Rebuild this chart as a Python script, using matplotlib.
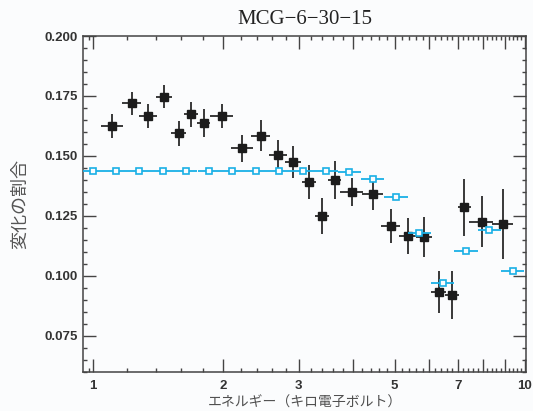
import matplotlib
matplotlib.use("Agg")
import matplotlib.pyplot as plt
from matplotlib.ticker import FixedLocator, FixedFormatter, NullFormatter
import numpy as np

# black points: measured fractional variability
energy = [1.11, 1.23, 1.345, 1.46, 1.58, 1.69, 1.81, 1.99, 2.22, 2.45, 2.69, 2.91,
          3.17, 3.39, 3.63, 3.98, 4.45, 4.90, 5.38, 5.85, 6.32, 6.79, 7.25, 7.95, 8.90]
energy_err = [0.0625, 0.0625, 0.0625, 0.0625, 0.0625, 0.0625, 0.0625,
              0.125, 0.125, 0.125, 0.125, 0.125, 0.125, 0.125, 0.125,
              0.25, 0.25, 0.25, 0.25, 0.25, 0.25, 0.25, 0.25, 0.5, 0.5]
frac = [0.1624, 0.1719, 0.1666, 0.1747, 0.1594, 0.1673, 0.1636, 0.1667, 0.1531,
        0.1584, 0.1503, 0.1473, 0.1392, 0.1250, 0.1399, 0.1348, 0.1341, 0.1207,
        0.1165, 0.1162, 0.0933, 0.0919, 0.1285, 0.1225, 0.1217]
frac_err = [0.0050, 0.0049, 0.0049, 0.0049, 0.0051, 0.0053, 0.0058, 0.0051, 0.0056,
            0.0065, 0.0063, 0.0067, 0.0072, 0.0076, 0.0078, 0.0059, 0.0066, 0.0070,
            0.0074, 0.0082, 0.0087, 0.0101, 0.0118, 0.0107, 0.0146]

# blue open squares: model
model_energy = [1.00, 1.13, 1.28, 1.452, 1.642, 1.862, 2.104, 2.384, 2.70, 3.06,
                3.467, 3.927, 4.447, 5.037, 5.70, 6.457, 7.31, 8.28, 9.38]
model_frac = [0.1437, 0.1437, 0.1437, 0.1437, 0.1437, 0.1437, 0.1437, 0.1437, 0.1437,
              0.1437, 0.1437, 0.1431, 0.1403, 0.1329, 0.1179, 0.0970, 0.1104, 0.1189, 0.1020]
model_halfwidth_dex = 0.027

title = "MCG\u22126\u221230\u221215"
xlabel = "エネルギー（キロ電子ボルト）"
ylabel = "変化の割合"
xtick_vals = [1, 2, 3, 4, 5, 6, 7, 8, 9, 10]
xtick_labels = ["1", "2", "3", "", "5", "", "7", "", "", "10"]
ytick_vals = [0.075, 0.100, 0.125, 0.150, 0.175, 0.200]

bg = "#fbfcfd"
blue = "#1ab0e6"
fig = plt.figure(figsize=(5.33, 4.11), dpi=100, facecolor=bg)
ax = fig.add_axes([0.1563, 0.0956, 0.8306, 0.8168], facecolor=bg)

ax.errorbar(energy, frac, xerr=energy_err, yerr=frac_err, fmt="s", color="#1c1c1c",
            ms=6.2, ecolor="#383838", elinewidth=1.4, capsize=0, zorder=2)

me = np.array(model_energy)
lo = me - me * 10 ** (-model_halfwidth_dex)
hi = me * 10 ** model_halfwidth_dex - me
ax.errorbar(model_energy, model_frac, xerr=[lo, hi], fmt="s", color=blue, mfc=bg,
            mec=blue, mew=1.2, ms=4.8, ecolor=blue, elinewidth=1.3, capsize=0, zorder=3)

ax.set_xscale("log")
ax.set_xlim(0.951, 10.07)
ax.set_ylim(0.06, 0.2)

ax.xaxis.set_major_locator(FixedLocator(xtick_vals))
ax.xaxis.set_major_formatter(FixedFormatter(xtick_labels))
minor = [0.98] + [v for v in np.arange(1.2, 10.0, 0.2) if abs(v - round(v)) > 0.05]
ax.xaxis.set_minor_locator(FixedLocator(minor))
ax.xaxis.set_minor_formatter(NullFormatter())
ax.yaxis.set_major_locator(FixedLocator(ytick_vals))
ax.yaxis.set_major_formatter(FixedFormatter([f"{v:.3f}" for v in ytick_vals]))
ax.yaxis.set_minor_locator(FixedLocator(np.arange(0.06, 0.2001, 0.005)))

ax.tick_params(which="both", direction="in", top=True, right=True, color="#444444", width=1.0)
ax.tick_params(which="major", length=9.5)
ax.tick_params(which="minor", length=3.2)
ax.tick_params(axis="y", which="major", pad=4)
ax.tick_params(axis="x", which="major", pad=6)
for lab in ax.get_xticklabels() + ax.get_yticklabels():
    lab.set_family("Liberation Sans")
    lab.set_fontweight("bold")
    lab.set_fontsize(9.5)
    lab.set_color("#333333")
for s in ax.spines.values():
    s.set_color("#444444")
    s.set_linewidth(1.1)

fig.text(304.5 / 533, 1 - 20 / 411, title, ha="center", va="center",
         family="Liberation Serif", fontsize=15, color="#222222")
fig.text(304.5 / 533, 1 - 403 / 411, xlabel, ha="center", va="center",
         family=["Noto Sans CJK JP", "DejaVu Sans"], fontsize=10, color="#505050")
fig.text(20 / 533, 1 - 204 / 411, ylabel, ha="center", va="center", rotation=90,
         family=["Noto Sans CJK JP", "DejaVu Sans"], fontsize=13, color="#555555")

fig.savefig("out.png", dpi=100, facecolor=bg)
